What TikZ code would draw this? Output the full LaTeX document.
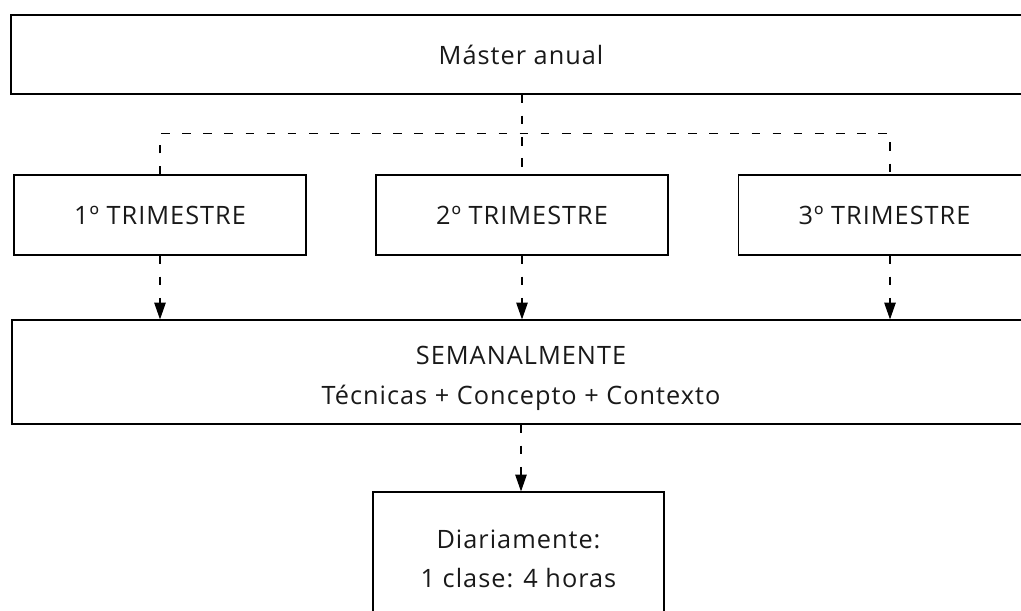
\documentclass[tikz,border=0pt]{standalone}
\usepackage{fontspec}
\setmainfont[LetterSpace=4]{Open Sans}
\usetikzlibrary{arrows.meta}

\tikzset{
  box/.style={draw=black, line width=0.7pt, inner sep=0pt, align=center,
    font=\fontsize{14.4}{22.6}\selectfont, text=black!90},
  trimbox/.style={box, minimum width=5.84cm, minimum height=1.6cm},
  link/.style={draw=black, line width=0.6pt, dash pattern=on 5pt off 7pt},
  flow/.style={link, -{Triangle[length=9.5pt,width=6.5pt]}}
}

\begin{document}
\begin{tikzpicture}[x=0.02cm,y=-0.02cm]
\useasboundingbox (0,0) rectangle (1021,610);
\clip (0,0) rectangle (1021,610);

% year and terms
\node[box, minimum width=20.4cm, minimum height=1.58cm] (master) at (521,54.5) {Máster anual};
\node[trimbox] (t1) at (160,215) {1º TRIMESTRE};
\node[trimbox] (t2) at (522,215) {2º TRIMESTRE};
\node[trimbox] (t3) at (884.5,215) {3º TRIMESTRE};

% week and day
\node[box, minimum width=20.36cm, minimum height=2.08cm] (sem) at (521,372)
  {\rule{0pt}{18pt}SEMANALMENTE\\Técnicas + Concepto + Contexto};
\node[box, minimum width=5.82cm, minimum height=2.68cm] (dia) at (518.5,559)
  {Diariamente:\\1 clase: 4 horas};

\draw[link] (master.south -| t2.north) -- (t2.north);
\draw[link] (t1.north) -- ++(0,-41) -| ([xshift=0.11cm]t3.north);

\draw[flow] (t1.south) -- (t1.south |- sem.north);
\draw[flow] (t2.south) -- (t2.south |- sem.north);
\draw[flow] ([xshift=0.11cm]t3.south) -- ([xshift=0.11cm]t3.south |- sem.north);
\draw[flow] (sem.south) -- (sem.south |- dia.north);
\end{tikzpicture}
\end{document}
